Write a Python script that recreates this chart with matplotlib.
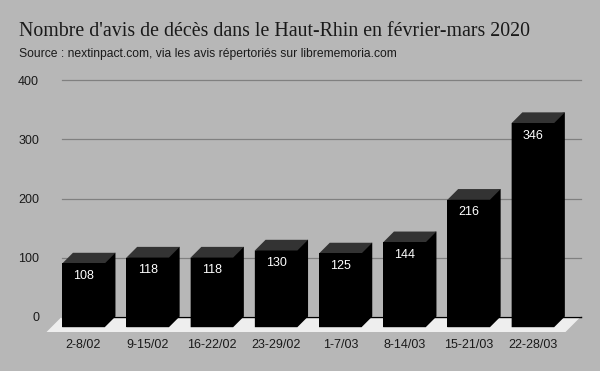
#!/usr/bin/env python3
"""Avis de deces dans le Haut-Rhin, fake-3D column chart."""
import matplotlib
matplotlib.use("Agg")
import matplotlib.pyplot as plt
from matplotlib.patches import Polygon

weeks = ["2-8/02", "9-15/02", "16-22/02", "23-29/02", "1-7/03", "8-14/03", "15-21/03", "22-28/03"]
counts = [108, 118, 118, 130, 125, 144, 216, 346]
y_ticks = [0, 100, 200, 300, 400]

BG = "#b7b7b7"
W, H = 600, 371
# plot area in pixels (top-down y)
X0, X1, Y400, Y0 = 62, 581, 80.5, 316.5
STEP = 64.2      # px between bars
BAR_W = 42.5 / STEP
DX = 10.7 / STEP  # depth of the 3D effect, category units
DY = 10.7 * 400 / (Y0 - Y400)  # same, value units
CENTER0 = 83.5   # px, centre of first bar front

plt.rcParams["font.family"] = ["Liberation Sans", "DejaVu Sans"]
fig = plt.figure(figsize=(W / 100, H / 100), dpi=100, facecolor=BG)
ax = fig.add_axes([X0 / W, 1 - Y0 / H, (X1 - X0) / W, (Y0 - Y400) / H])
ax.set_facecolor("none")
ax.set_xlim((X0 - CENTER0) / STEP, (X1 - CENTER0) / STEP)
ax.set_ylim(0, 400)
for s in ax.spines.values():
    s.set_visible(False)

ax.set_yticks(y_ticks)
ax.set_xticks(range(len(weeks)))
ax.set_xticklabels(weeks)
ax.tick_params(axis="y", length=0, pad=16.5, labelsize=9, labelcolor="#1a1a1a")
ax.tick_params(axis="x", length=0, pad=16.2, labelsize=9, labelcolor="#1a1a1a")
ax.grid(axis="y", color="#808080", lw=0.9, zorder=1, clip_on=False)
ax.set_axisbelow(True)

# floor
xl, xr = ax.get_xlim()
floor_dx = 15.5 / STEP
floor_dy = 15.5 * 400 / (Y0 - Y400)
ax.add_patch(Polygon([(xl, 0), (xr, 0), (xr - floor_dx, -floor_dy), (xl - floor_dx, -floor_dy)],
                     closed=True, fc="#eeeeee", ec="none", zorder=1.2, clip_on=False))
ax.axhline(0, color="black", lw=1, zorder=1.5, clip_on=False)

# columns: side + top faces first, front drawn over them
for i, v in enumerate(counts):
    left = i - BAR_W / 2
    right = i + BAR_W / 2
    top = v - DY
    ax.add_patch(Polygon([(left, -DY), (right, -DY), (right + DX, 0), (right + DX, v), (left, top)],
                         closed=True, fc="black", ec="none", zorder=3, clip_on=False))
    ax.add_patch(Polygon([(left, top), (left + DX, v), (right + DX, v), (right, top)],
                         closed=True, fc="#333333", ec="none", zorder=3.05, clip_on=False))
    ax.bar(i, v, BAR_W, bottom=-DY, color="black", zorder=3.1, clip_on=False)
    ax.annotate(str(v), (i, top), xytext=(0, -12.5 * 0.72), textcoords="offset points",
                ha="center", va="center", color="white", fontsize=9, zorder=4)

fig.text(19 / W, 1 - 31 / H, "Nombre d'avis de décès dans le Haut-Rhin en février-mars 2020",
         family=["Liberation Serif"], fontsize=14.33, color="#1a1a1a", va="center", ha="left")
fig.text(19 / W, 1 - 53.5 / H, "Source : nextinpact.com, via les avis répertoriés sur librememoria.com",
         fontsize=8.76, color="#1a1a1a", va="center", ha="left")

fig.savefig("out.png", dpi=100, facecolor=BG)
